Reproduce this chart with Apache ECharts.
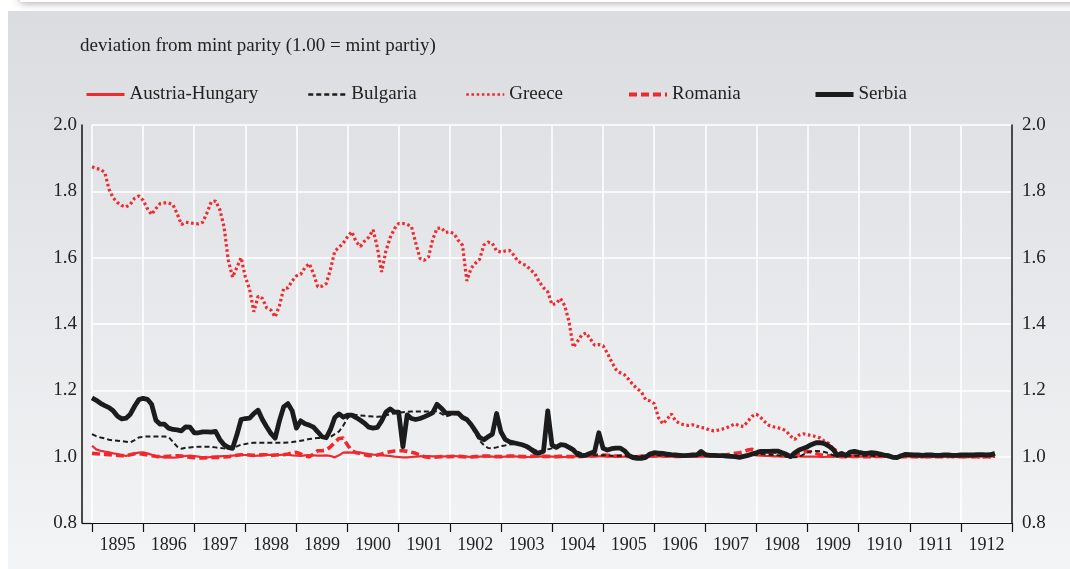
<!DOCTYPE html>
<html>
<head>
<meta charset="UTF-8">
<title>mint parity</title>
<script src="https://cdn.jsdelivr.net/npm/echarts@6/dist/echarts.min.js"></script>
<style>
  html, body { margin: 0; padding: 0; background: #fff; }
  #main { width: 1070px; height: 569px; }
</style>
</head>
<body>
<div id="main"></div>
<script type="text/javascript">
// monthly observations, first one = January 1895
var startYear = 1895;
var yearTicks = ['1895','1896','1897','1898','1899','1900','1901','1902','1903','1904','1905','1906','1907','1908','1909','1910','1911','1912'];
var yTicks = [0.8, 1.0, 1.2, 1.4, 1.6, 1.8, 2.0];

var austria = [
  1.033,1.022,1.018,1.015,1.013,1.010,1.008,1.005,1.002,1.005,1.010,1.012,
  1.013,1.010,1.006,1.002,1.000,0.998,0.998,0.997,0.998,1.000,1.002,1.003,
  1.002,1.000,0.998,0.998,0.999,1.000,1.001,1.002,1.002,1.003,1.004,1.005,
  1.005,1.004,1.002,1.003,1.004,1.006,1.005,1.004,1.005,1.006,1.006,1.004,
  1.003,1.002,1.004,1.005,1.004,1.003,1.003,1.004,1.002,0.998,1.004,1.012,
  1.013,1.012,1.012,1.012,1.010,1.008,1.006,1.005,1.004,1.003,1.002,1.000,
  0.999,0.998,0.998,0.999,1.000,1.001,1.002,1.002,1.001,1.000,1.000,1.001,
  1.002,1.002,1.001,1.000,1.000,0.999,0.999,1.000,1.001,1.001,1.000,0.999,
  0.999,1.000,1.001,1.001,1.000,1.000,0.999,0.999,1.000,1.000,1.001,1.001,
  1.000,1.000,0.999,0.999,1.000,1.000,1.001,1.001,1.000,1.000,1.000,1.001,
  1.001,1.000,1.000,0.999,0.999,1.000,1.000,1.001,1.001,1.000,1.000,1.000,
  1.001,1.001,1.000,1.000,1.000,1.000,1.001,1.001,1.000,1.000,1.000,1.000,
  1.000,1.001,1.001,1.000,1.000,1.000,1.001,1.001,1.002,1.003,1.004,1.005,
  1.004,1.003,1.002,1.002,1.001,1.001,1.000,1.000,1.000,1.001,1.001,1.000,
  1.000,1.000,1.000,0.999,0.999,1.000,1.000,1.000,1.000,1.000,0.999,0.999,
  1.000,1.000,1.000,1.000,1.000,0.999,0.999,1.000,1.000,1.000,1.000,1.000,
  1.000,1.000,1.000,1.000,1.000,1.000,1.000,1.000,1.000,1.000,1.000,1.000,
  1.000,1.000,1.000,1.000,1.000,1.000,1.000,1.000,1.001
];
var bulgaria = [
  1.068,1.062,1.058,1.055,1.051,1.049,1.048,1.047,1.045,1.043,1.050,1.058,
  1.060,1.061,1.061,1.061,1.061,1.061,1.059,1.045,1.030,1.024,1.027,1.028,
  1.029,1.030,1.030,1.030,1.030,1.028,1.026,1.025,1.023,1.025,1.031,1.036,
  1.038,1.041,1.042,1.042,1.042,1.042,1.042,1.042,1.042,1.042,1.043,1.044,
  1.046,1.048,1.050,1.053,1.055,1.056,1.057,1.058,1.060,1.068,1.076,1.094,
  1.116,1.128,1.126,1.124,1.123,1.122,1.121,1.120,1.121,1.125,1.128,1.131,
  1.133,1.134,1.135,1.136,1.136,1.136,1.136,1.136,1.137,1.137,1.130,1.121,
  1.125,1.128,1.128,1.118,1.110,1.095,1.070,1.048,1.035,1.026,1.025,1.028,
  1.032,1.034,1.037,1.038,1.036,1.036,1.034,1.028,1.020,1.016,1.018,1.022,
  1.025,1.028,1.032,1.034,1.032,1.025,1.015,1.010,1.007,1.005,1.004,1.004,
  1.004,1.004,1.003,1.003,1.003,1.003,1.002,1.002,1.002,1.003,1.003,1.004,
  1.004,1.004,1.003,1.003,1.003,1.003,1.003,1.003,1.003,1.003,1.004,1.004,
  1.004,1.003,1.003,1.003,1.002,1.002,1.002,1.002,1.002,1.003,1.004,1.005,
  1.006,1.007,1.007,1.006,1.005,1.004,1.003,1.000,0.998,0.998,0.999,1.006,
  1.013,1.016,1.017,1.016,1.014,1.010,1.004,1.002,1.002,1.002,1.003,1.003,
  1.003,1.003,1.003,1.003,1.002,1.002,1.002,1.002,1.002,1.002,1.003,1.003,
  1.003,1.004,1.004,1.004,1.003,1.003,1.003,1.003,1.003,1.003,1.003,1.003,
  1.003,1.003,1.003,1.003,1.003,1.003,1.003,1.003,1.005
];
var greece = [
  1.874,1.869,1.866,1.857,1.806,1.780,1.766,1.757,1.753,1.761,1.779,1.786,
  1.773,1.748,1.730,1.748,1.763,1.765,1.765,1.760,1.732,1.700,1.707,1.705,
  1.703,1.702,1.707,1.735,1.768,1.771,1.745,1.693,1.592,1.541,1.570,1.600,
  1.542,1.505,1.437,1.484,1.477,1.449,1.442,1.421,1.455,1.507,1.509,1.530,
  1.545,1.550,1.570,1.582,1.552,1.512,1.514,1.522,1.565,1.620,1.631,1.644,
  1.663,1.678,1.648,1.634,1.650,1.662,1.684,1.630,1.557,1.620,1.660,1.687,
  1.703,1.703,1.700,1.694,1.645,1.598,1.592,1.602,1.655,1.688,1.690,1.676,
  1.678,1.672,1.652,1.637,1.530,1.568,1.583,1.595,1.638,1.647,1.643,1.620,
  1.617,1.620,1.622,1.608,1.589,1.582,1.576,1.563,1.551,1.527,1.510,1.497,
  1.458,1.462,1.477,1.455,1.407,1.330,1.348,1.367,1.373,1.355,1.336,1.338,
  1.334,1.312,1.286,1.263,1.253,1.247,1.233,1.217,1.205,1.195,1.172,1.168,
  1.160,1.118,1.099,1.112,1.129,1.108,1.100,1.096,1.094,1.096,1.092,1.088,
  1.086,1.080,1.078,1.080,1.083,1.087,1.093,1.099,1.093,1.091,1.107,1.122,
  1.128,1.118,1.105,1.094,1.090,1.087,1.084,1.077,1.062,1.052,1.065,1.069,
  1.066,1.064,1.060,1.056,1.046,1.040,1.024,1.017,1.004,1.002,1.002,1.003,
  1.003,1.002,1.002,1.001,1.001,1.002,1.002,1.001,1.000,1.000,1.001,1.001,
  1.001,1.000,0.999,0.999,1.000,1.000,1.001,1.001,1.000,1.000,1.000,1.000,
  1.000,1.000,1.000,1.000,0.999,0.999,1.000,1.000,1.001
];
var romania = [
  1.010,1.009,1.008,1.007,1.006,1.005,1.004,1.003,1.003,1.006,1.009,1.009,
  1.007,1.005,1.003,1.001,1.000,1.000,1.001,1.002,1.003,1.002,1.000,0.998,
  0.997,0.996,0.996,0.997,0.998,0.998,0.998,0.999,1.000,1.002,1.004,1.006,
  1.006,1.005,1.004,1.005,1.006,1.006,1.004,1.005,1.006,1.006,1.008,1.011,
  1.013,1.008,1.002,1.000,1.008,1.018,1.018,1.020,1.030,1.043,1.055,1.056,
  1.035,1.018,1.012,1.010,1.006,1.003,1.003,1.005,1.008,1.012,1.015,1.017,
  1.018,1.018,1.016,1.013,1.010,1.005,1.000,0.998,0.998,0.999,1.000,1.000,
  1.000,1.001,1.001,1.000,0.999,0.999,1.000,1.001,1.002,1.002,1.001,1.000,
  1.000,1.001,1.002,1.002,1.001,1.000,1.000,1.001,1.002,1.002,1.001,1.001,
  1.000,1.000,1.001,1.001,1.000,1.000,1.000,1.001,1.002,1.003,1.004,1.005,
  1.005,1.004,1.003,1.002,1.002,1.001,1.001,1.000,1.000,1.001,1.001,1.002,
  1.002,1.003,1.003,1.002,1.002,1.001,1.001,1.002,1.003,1.003,1.004,1.005,
  1.004,1.003,1.003,1.004,1.005,1.006,1.008,1.010,1.012,1.015,1.020,1.022,
  1.018,1.012,1.010,1.012,1.014,1.012,1.008,1.006,1.004,1.006,1.010,1.014,
  1.016,1.014,1.010,1.006,1.004,1.003,1.002,1.001,1.000,1.000,1.001,1.001,
  1.001,1.000,1.000,1.000,1.001,1.001,1.000,1.000,0.999,0.999,1.000,1.000,
  1.000,1.000,1.001,1.001,1.000,1.000,1.000,1.000,1.000,1.001,1.001,1.000,
  1.000,1.000,1.000,1.000,1.000,1.000,1.000,1.000,1.001
];
var serbia = [
  1.177,1.170,1.161,1.154,1.148,1.138,1.122,1.114,1.116,1.128,1.152,1.172,
  1.176,1.173,1.158,1.110,1.098,1.098,1.086,1.082,1.081,1.078,1.090,1.089,
  1.072,1.072,1.075,1.075,1.074,1.076,1.052,1.036,1.028,1.025,1.065,1.112,
  1.115,1.116,1.130,1.140,1.112,1.090,1.070,1.056,1.108,1.150,1.160,1.138,
  1.086,1.108,1.099,1.095,1.089,1.075,1.060,1.057,1.082,1.118,1.129,1.119,
  1.125,1.125,1.118,1.110,1.101,1.089,1.086,1.088,1.108,1.134,1.144,1.134,
  1.134,1.030,1.126,1.115,1.112,1.115,1.120,1.126,1.133,1.158,1.146,1.132,
  1.131,1.131,1.131,1.118,1.112,1.097,1.078,1.058,1.051,1.060,1.068,1.130,
  1.075,1.052,1.045,1.042,1.039,1.036,1.031,1.023,1.013,1.011,1.016,1.138,
  1.035,1.028,1.036,1.035,1.028,1.020,1.007,1.003,1.005,1.010,1.015,1.072,
  1.025,1.020,1.024,1.026,1.026,1.018,1.004,0.997,0.995,0.995,0.998,1.008,
  1.012,1.011,1.010,1.008,1.006,1.005,1.004,1.003,1.004,1.005,1.005,1.016,
  1.006,1.004,1.004,1.003,1.003,1.002,1.001,1.000,0.998,1.001,1.004,1.008,
  1.012,1.016,1.016,1.016,1.017,1.017,1.012,1.007,1.000,1.012,1.020,1.025,
  1.030,1.037,1.042,1.042,1.039,1.032,1.022,1.004,1.010,1.004,1.014,1.016,
  1.013,1.011,1.010,1.012,1.011,1.008,1.005,1.003,0.998,0.997,1.003,1.007,
  1.006,1.005,1.005,1.004,1.005,1.005,1.004,1.004,1.005,1.005,1.004,1.004,
  1.005,1.005,1.005,1.005,1.006,1.006,1.005,1.006,1.010
];

// month index -> fractional year
function toSeries(arr) {
  return arr.map(function (v, i) { return [startYear + i / 12, v]; });
}

var RED = '#ee2a2f';
var BLACK = '#1c1c1c';
var FONT = '"Liberation Serif", "DejaVu Serif", serif';

var myChart = echarts.init(document.getElementById('main'));

// one legend per entry so each one sits where the original has it
function legendAt(name, x, w) {
  return {
    data: [name],
    left: x,
    top: 80,
    itemWidth: 38,
    itemHeight: 16,
    itemStyle: { opacity: 0 },
    lineStyle: { width: w },
    textStyle: { fontFamily: FONT, fontSize: 19, color: '#222' },
    selectedMode: false
  };
}

var option = {
  animation: false,
  backgroundColor: '#ffffff',
  graphic: [
    {
      type: 'rect', z: -10, silent: true,
      shape: { x: 20, y: -30, width: 1080, height: 32 },
      style: { fill: '#ffffff', shadowBlur: 8, shadowColor: 'rgba(0,0,0,0.35)', shadowOffsetY: 1 }
    },
    {
      type: 'rect', z: -10, silent: true,
      shape: { x: 8, y: 11, width: 1062, height: 558 },
      style: {
        fill: new echarts.graphic.LinearGradient(0, 0, 0, 1, [
          { offset: 0, color: '#dbdcdf' },
          { offset: 1, color: '#f3f4f6' }
        ])
      }
    },
    {
      type: 'text', left: 80, top: 37, silent: true,
      style: { text: 'deviation from mint parity (1.00 = mint partiy)', font: '19px ' + FONT, fill: '#222' }
    },
    {
      // bottom axis line runs on to the left axis
      type: 'line', silent: true,
      shape: { x1: 82, y1: 523.5, x2: 92, y2: 523.5 },
      style: { stroke: '#111', lineWidth: 1.2 }
    }
  ],
  legend: [
    legendAt('Austria-Hungary', 80, 3),
    legendAt('Bulgaria', 302, 2.5),
    legendAt('Greece', 460, 2.5),
    legendAt('Romania', 622, 4),
    legendAt('Serbia', 808, 5)
  ],
  grid: { left: 92, right: 58, top: 125, bottom: 46 },
  xAxis: [
    {
      type: 'value', min: 1895, max: 1913, interval: 1,
      axisLine: { lineStyle: { color: '#111', width: 1.2 } },
      axisTick: { show: true, length: 9, lineStyle: { color: '#111', width: 1.2 } },
      axisLabel: { show: false },
      splitLine: { show: true, lineStyle: { color: '#ffffff', width: 1.5 } }
    },
    {
      // labels centred inside each year
      type: 'value', min: 1895, max: 1913, interval: 0.5, position: 'bottom',
      axisLine: { show: false }, axisTick: { show: false }, splitLine: { show: false },
      axisLabel: {
        margin: 13, fontFamily: FONT, fontSize: 18, color: '#222',
        formatter: function (v) {
          var k = Math.floor(v) - startYear;
          return (v % 1 !== 0 && yearTicks[k]) ? yearTicks[k] : '';
        }
      }
    }
  ],
  yAxis: [
    {
      type: 'value', min: yTicks[0], max: yTicks[yTicks.length - 1], interval: 0.2,
      offset: 10,
      axisLine: { show: true, lineStyle: { color: '#111', width: 1.5 } },
      axisTick: { show: false },
      axisLabel: { margin: 5, fontFamily: FONT, fontSize: 19, color: '#222', formatter: function (v) { return v.toFixed(1); } },
      splitLine: { show: true, lineStyle: { color: '#ffffff', width: 1.5 } }
    },
    {
      type: 'value', position: 'right', min: yTicks[0], max: yTicks[yTicks.length - 1], interval: 0.2,
      axisLine: { show: true, lineStyle: { color: '#111', width: 1.5 } },
      axisTick: { show: false },
      axisLabel: { margin: 10, fontFamily: FONT, fontSize: 19, color: '#222', formatter: function (v) { return v.toFixed(1); } },
      splitLine: { show: false }
    }
  ],
  series: [
    {
      name: 'Greece', type: 'line', symbol: 'none', data: toSeries(greece),
      lineStyle: { color: RED, width: 3.2, type: [2.6, 2.6] }, itemStyle: { color: RED }
    },
    {
      name: 'Austria-Hungary', type: 'line', symbol: 'none', data: toSeries(austria),
      lineStyle: { color: RED, width: 2.2 }, itemStyle: { color: RED }
    },
    {
      name: 'Romania', type: 'line', symbol: 'none', data: toSeries(romania),
      lineStyle: { color: RED, width: 3.6, type: [8, 4] }, itemStyle: { color: RED }
    },
    {
      name: 'Bulgaria', type: 'line', symbol: 'none', data: toSeries(bulgaria),
      lineStyle: { color: BLACK, width: 2, type: [5, 3] }, itemStyle: { color: BLACK }
    },
    {
      name: 'Serbia', type: 'line', symbol: 'none', data: toSeries(serbia),
      lineStyle: { color: BLACK, width: 4.8, join: 'round' }, itemStyle: { color: BLACK }
    }
  ]
};

myChart.setOption(option);
</script>
</body>
</html>
